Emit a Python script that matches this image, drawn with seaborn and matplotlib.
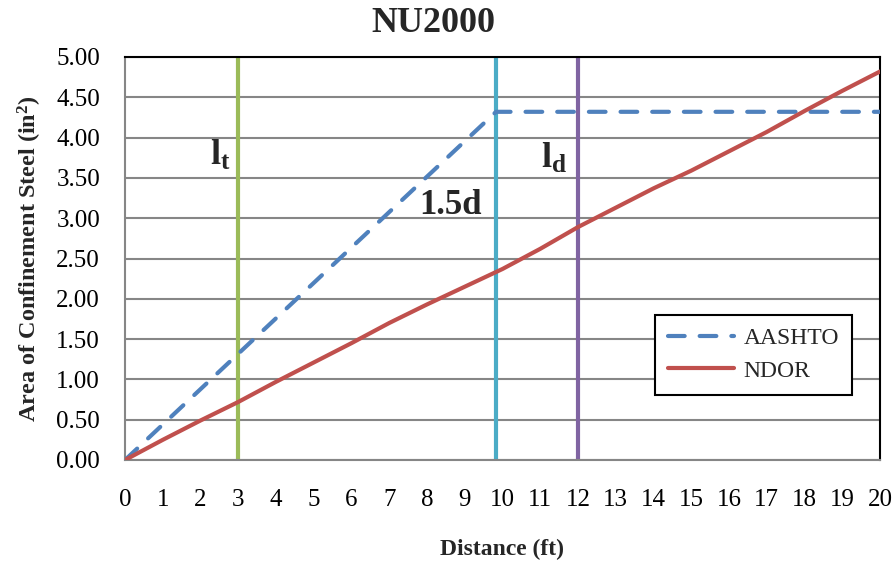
import matplotlib
matplotlib.use("Agg")
import matplotlib.pyplot as plt
import seaborn as sns
import numpy as np
import pandas as pd
from matplotlib.ticker import MultipleLocator, FormatStrFormatter

# ---- data ----
aashto_x = [0, 9.83, 20]
aashto_y = [0.0, 4.32, 4.32]

ndor_x = [0, 1, 2, 3, 4, 5, 6, 7, 8, 9, 10, 11, 12, 13, 14, 15, 16, 17, 18, 19, 20]
ndor_y = [0.0, 0.25, 0.49, 0.72, 0.97, 1.21, 1.45, 1.70, 1.93, 2.15, 2.37,
          2.62, 2.89, 3.13, 3.37, 3.59, 3.83, 4.07, 4.33, 4.58, 4.82]

vline_x = [3, 9.83, 12]
vline_colors = ["#9BBB59", "#4BACC6", "#8064A2"]

title = "NU2000"
xlabel = "Distance (ft)"
ylabel = "Area of Confinement Steel (in$^{\\mathbf{2}}$)"

sns.set_theme(style="white")
plt.rcParams["font.family"] = ["Liberation Serif", "DejaVu Serif"]
plt.rcParams["mathtext.fontset"] = "custom"
plt.rcParams["mathtext.rm"] = "Liberation Serif"
plt.rcParams["mathtext.bf"] = "Liberation Serif:bold"
plt.rcParams["mathtext.it"] = "Liberation Serif:italic"

fig = plt.figure(figsize=(8.93, 5.63), dpi=100)
ax = fig.add_axes([125 / 893, 1 - 460 / 563, 755 / 893, 403 / 563])

df_a = pd.DataFrame({"x": aashto_x, "y": aashto_y})
df_n = pd.DataFrame({"x": ndor_x, "y": ndor_y})

for xv, c in zip(vline_x, vline_colors):
    ax.axvline(xv, color=c, lw=3, zorder=2)

sns.lineplot(data=df_a, x="x", y="y", ax=ax, color="#4F81BD", lw=3,
             label="AASHTO", zorder=3, sort=False)
la = ax.get_lines()[-1]
la.set_dashes((4.0, 3.6))
la.set_dash_capstyle("round")
sns.lineplot(data=df_n, x="x", y="y", ax=ax, color="#C0504D", lw=3,
             label="NDOR", zorder=3, sort=False)

ax.set_xlim(0, 20)
ax.set_ylim(0, 5)
ax.xaxis.set_major_locator(MultipleLocator(1))
ax.xaxis.set_minor_locator(MultipleLocator(0.5))
ax.yaxis.set_major_locator(MultipleLocator(0.5))
ax.yaxis.set_minor_locator(MultipleLocator(0.25))
ax.yaxis.set_major_formatter(FormatStrFormatter("%.2f"))
ax.grid(axis="y", which="major", color="#868686", lw=1.5, zorder=0)
ax.grid(axis="x", visible=False)

for s in ["left", "bottom"]:
    ax.spines[s].set_color("#868686")
    ax.spines[s].set_linewidth(1.5)
for s in ["top", "right"]:
    ax.spines[s].set_color("black")
    ax.spines[s].set_linewidth(1.5)

ax.tick_params(axis="both", which="both", direction="inout", color="#868686",
               width=1.5, labelsize=18, labelcolor="black")
ax.tick_params(axis="both", which="major", length=12)
ax.tick_params(axis="both", which="minor", length=12)
ax.tick_params(axis="x", which="major", pad=15)
ax.tick_params(axis="y", which="major", pad=12)
ax.tick_params(top=False, right=False, which="both")

ax.set_xlabel(xlabel, fontsize=17, fontweight="bold", labelpad=20)
ax.set_ylabel(ylabel, fontsize=17.5, fontweight="bold", labelpad=9)

fig.text(433 / 893, 1 - 23 / 563, title, ha="center", va="center",
         fontsize=26, fontweight="bold")

ax.text(2.25, 3.66, r"$\mathbf{l}_{\mathbf{t}}$", fontsize=26, ha="left", va="baseline")
ax.text(11.02, 3.62, r"$\mathbf{l}_{\mathbf{d}}$", fontsize=26, ha="left", va="baseline")
ax.text(7.79, 3.05, "1.5d", fontsize=25, fontweight="bold", ha="left", va="baseline")

leg = ax.legend(loc="upper left", bbox_to_anchor=(0.702, 0.36), borderaxespad=0,
                fontsize=17, frameon=True, fancybox=False, handlelength=2.8,
                labelspacing=0.45, borderpad=0.55, handletextpad=0.4)
leg.get_frame().set_edgecolor("black")
leg.get_frame().set_linewidth(1.5)
leg.get_frame().set_alpha(1)

fig.savefig("out.png", dpi=100)
